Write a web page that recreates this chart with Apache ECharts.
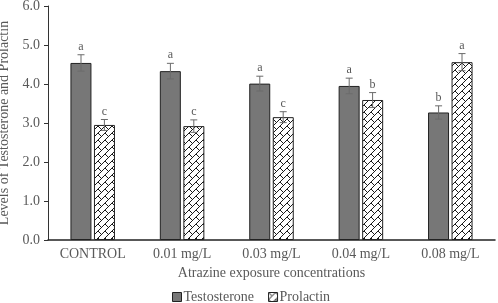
<!DOCTYPE html>
<html>
<head>
<meta charset="utf-8">
<script src="https://cdn.jsdelivr.net/npm/echarts@6/dist/echarts.min.js"></script>
<style>
  html, body { margin: 0; padding: 0; background: #fff; }
  #chart { width: 498px; height: 303px; }
</style>
</head>
<body>
<div id="chart"></div>
<script>
var categories = ['CONTROL', '0.01 mg/L', '0.03 mg/L', '0.04 mg/L', '0.08 mg/L'];
var testosterone = [4.54, 4.33, 4.01, 3.95, 3.27];
var testosteroneErr = [0.21, 0.20, 0.19, 0.20, 0.17];
var testosteroneLetters = ['a', 'a', 'a', 'a', 'b'];
var prolactin = [2.95, 2.92, 3.15, 3.59, 4.56];
var prolactinErr = [0.14, 0.16, 0.14, 0.19, 0.22];
var prolactinLetters = ['c', 'c', 'c', 'b', 'a'];
var yTicks = [0, 1, 2, 3, 4, 5, 6];

var font = '"Liberation Serif", "Times New Roman", serif';
var textColor = '#595959';

// brick hatch for prolactin bars
function makeHatch() {
  var P = 7, T = 2 * P;
  var c = document.createElement('canvas');
  c.width = T; c.height = T;
  var ctx = c.getContext('2d');
  ctx.fillStyle = '#fff';
  ctx.fillRect(0, 0, T, T);
  ctx.strokeStyle = '#1a1a1a';
  ctx.lineWidth = 1;
  ctx.beginPath();
  for (var k = -4; k <= 8; k++) {
    var s = P * k;
    ctx.moveTo(-T, s + T);
    ctx.lineTo(s + T, -T);
    var par = ((k % 2) + 2) % 2;
    for (var m = -4; m <= 4; m++) {
      var cc = P * par + T * m;
      ctx.moveTo((s + cc) / 2, (s - cc) / 2);
      ctx.lineTo((s + P + cc) / 2, (s + P - cc) / 2);
    }
  }
  ctx.stroke();
  return c;
}
var hatch = { image: makeHatch(), repeat: 'repeat' };

function errData(vals, errs, letters) {
  return vals.map(function (v, i) { return [i, v, errs[i], letters[i]]; });
}

function errSeries(name, data, offset) {
  return {
    name: name + ' err',
    type: 'custom',
    silent: true,
    z: 10,
    data: data,
    renderItem: function (params, api) {
      var i = api.value(0), v = api.value(1), e = api.value(2);
      var hi = api.coord([i, v + e]);
      var lo = api.coord([i, v - e]);
      var x = hi[0] + offset;
      var cap = 3.5;
      var st = { stroke: '#6b6b6b', lineWidth: 1 };
      return {
        type: 'group',
        children: [
          { type: 'line', shape: { x1: x, y1: hi[1], x2: x, y2: lo[1] }, style: st },
          { type: 'line', shape: { x1: x - cap, y1: hi[1], x2: x + cap, y2: hi[1] }, style: st },
          { type: 'line', shape: { x1: x - cap, y1: lo[1], x2: x + cap, y2: lo[1] }, style: st },
          { type: 'text', x: x, y: hi[1] - 2, style: {
              text: data[params.dataIndex][3], fill: textColor,
              font: '12px ' + font, align: 'center', verticalAlign: 'bottom' } }
        ]
      };
    }
  };
}

var chart = echarts.init(document.getElementById('chart'));
chart.setOption({
  animation: false,
  backgroundColor: '#fff',
  textStyle: { fontFamily: font },
  grid: { left: 48, right: 3, top: 6, bottom: 63, containLabel: false, outerBoundsMode: 'none' },
  legend: {
    left: 172,
    top: 290,
    padding: 0,
    itemWidth: 9,
    itemHeight: 9,
    itemGap: 14,
    textStyle: { fontFamily: font, fontSize: 14, color: textColor, padding: [0, 0, 0, -3] },
    data: [
      { name: 'Testosterone', icon: 'rect', itemStyle: { color: '#777', borderColor: '#222', borderWidth: 1 } },
      { name: 'Prolactin', icon: 'rect', itemStyle: { color: hatch, borderColor: '#222', borderWidth: 1 } }
    ]
  },
  xAxis: {
    type: 'category',
    data: categories,
    name: 'Atrazine exposure concentrations',
    nameLocation: 'middle',
    nameGap: 24,
    nameTextStyle: { fontFamily: font, fontSize: 14, color: textColor },
    axisLine: { lineStyle: { color: '#222', width: 1.5 } },
    axisTick: { show: false },
    axisLabel: { fontFamily: font, fontSize: 14, color: textColor, margin: 7 }
  },
  yAxis: {
    type: 'value',
    min: yTicks[0],
    max: yTicks[yTicks.length - 1],
    interval: 1,
    name: 'Levels of Testosterone and Prolactin',
    nameLocation: 'middle',
    nameGap: 31,
    nameTextStyle: { fontFamily: font, fontSize: 14, color: textColor },
    axisLine: { show: true, lineStyle: { color: '#333', width: 1 } },
    axisTick: { show: true, length: 4, lineStyle: { color: '#333' } },
    splitLine: { show: false },
    axisLabel: {
      fontFamily: font, fontSize: 14, color: textColor, margin: 8,
      formatter: function (v) { return v.toFixed(1); }
    }
  },
  series: [
    {
      name: 'Testosterone',
      type: 'bar',
      barWidth: 21,
      barGap: '12%',
      data: testosterone,
      itemStyle: { color: '#777', borderColor: '#222', borderWidth: 1 }
    },
    {
      name: 'Prolactin',
      type: 'bar',
      barWidth: 21,
      data: prolactin,
      itemStyle: { color: hatch, borderColor: '#222', borderWidth: 1 }
    },
    errSeries('Testosterone', errData(testosterone, testosteroneErr, testosteroneLetters), -11.7),
    errSeries('Prolactin', errData(prolactin, prolactinErr, prolactinLetters), 11.7)
  ]
});
</script>
</body>
</html>
